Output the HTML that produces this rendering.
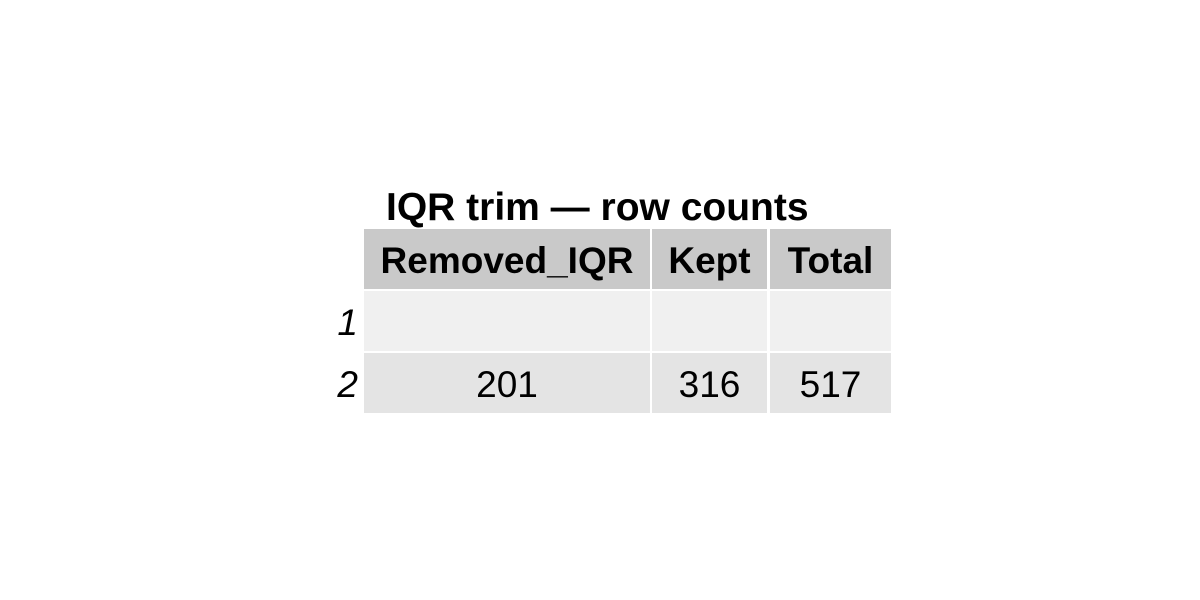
<!DOCTYPE html>
<html><head><meta charset="utf-8"><style>
body{margin:0;width:1200px;height:600px;background:#fff;position:relative;font-family:"Liberation Sans",sans-serif;overflow:hidden}
.c{position:absolute;display:flex;align-items:center;justify-content:center;font-size:37px;color:#000;padding-top:3px;box-sizing:border-box}
.h{background:#c9c9c9;font-weight:bold}
.r1{background:#f0f0f0}
.r2{background:#e4e4e4}
.rl{position:absolute;font-size:37px;font-style:italic;width:30px;text-align:right;left:328px}
</style></head><body>
<div style="position:absolute;left:386px;top:187px;font-size:39px;font-weight:bold;line-height:42px">IQR trim — row counts</div>
<div class="c h" style="left:364px;top:229px;width:286px;height:60px">Removed_IQR</div>
<div class="c h" style="left:652px;top:229px;width:115px;height:60px">Kept</div>
<div class="c h" style="left:770px;top:229px;width:121px;height:60px">Total</div>
<div class="c r1" style="left:364px;top:291px;width:286px;height:60px"></div>
<div class="c r1" style="left:652px;top:291px;width:115px;height:60px"></div>
<div class="c r1" style="left:770px;top:291px;width:121px;height:60px"></div>
<div class="c r2" style="left:364px;top:353px;width:286px;height:60px">201</div>
<div class="c r2" style="left:652px;top:353px;width:115px;height:60px">316</div>
<div class="c r2" style="left:770px;top:353px;width:121px;height:60px">517</div>
<div class="rl" style="top:303px;line-height:40px">1</div>
<div class="rl" style="top:365px;line-height:40px">2</div>
</body></html>
